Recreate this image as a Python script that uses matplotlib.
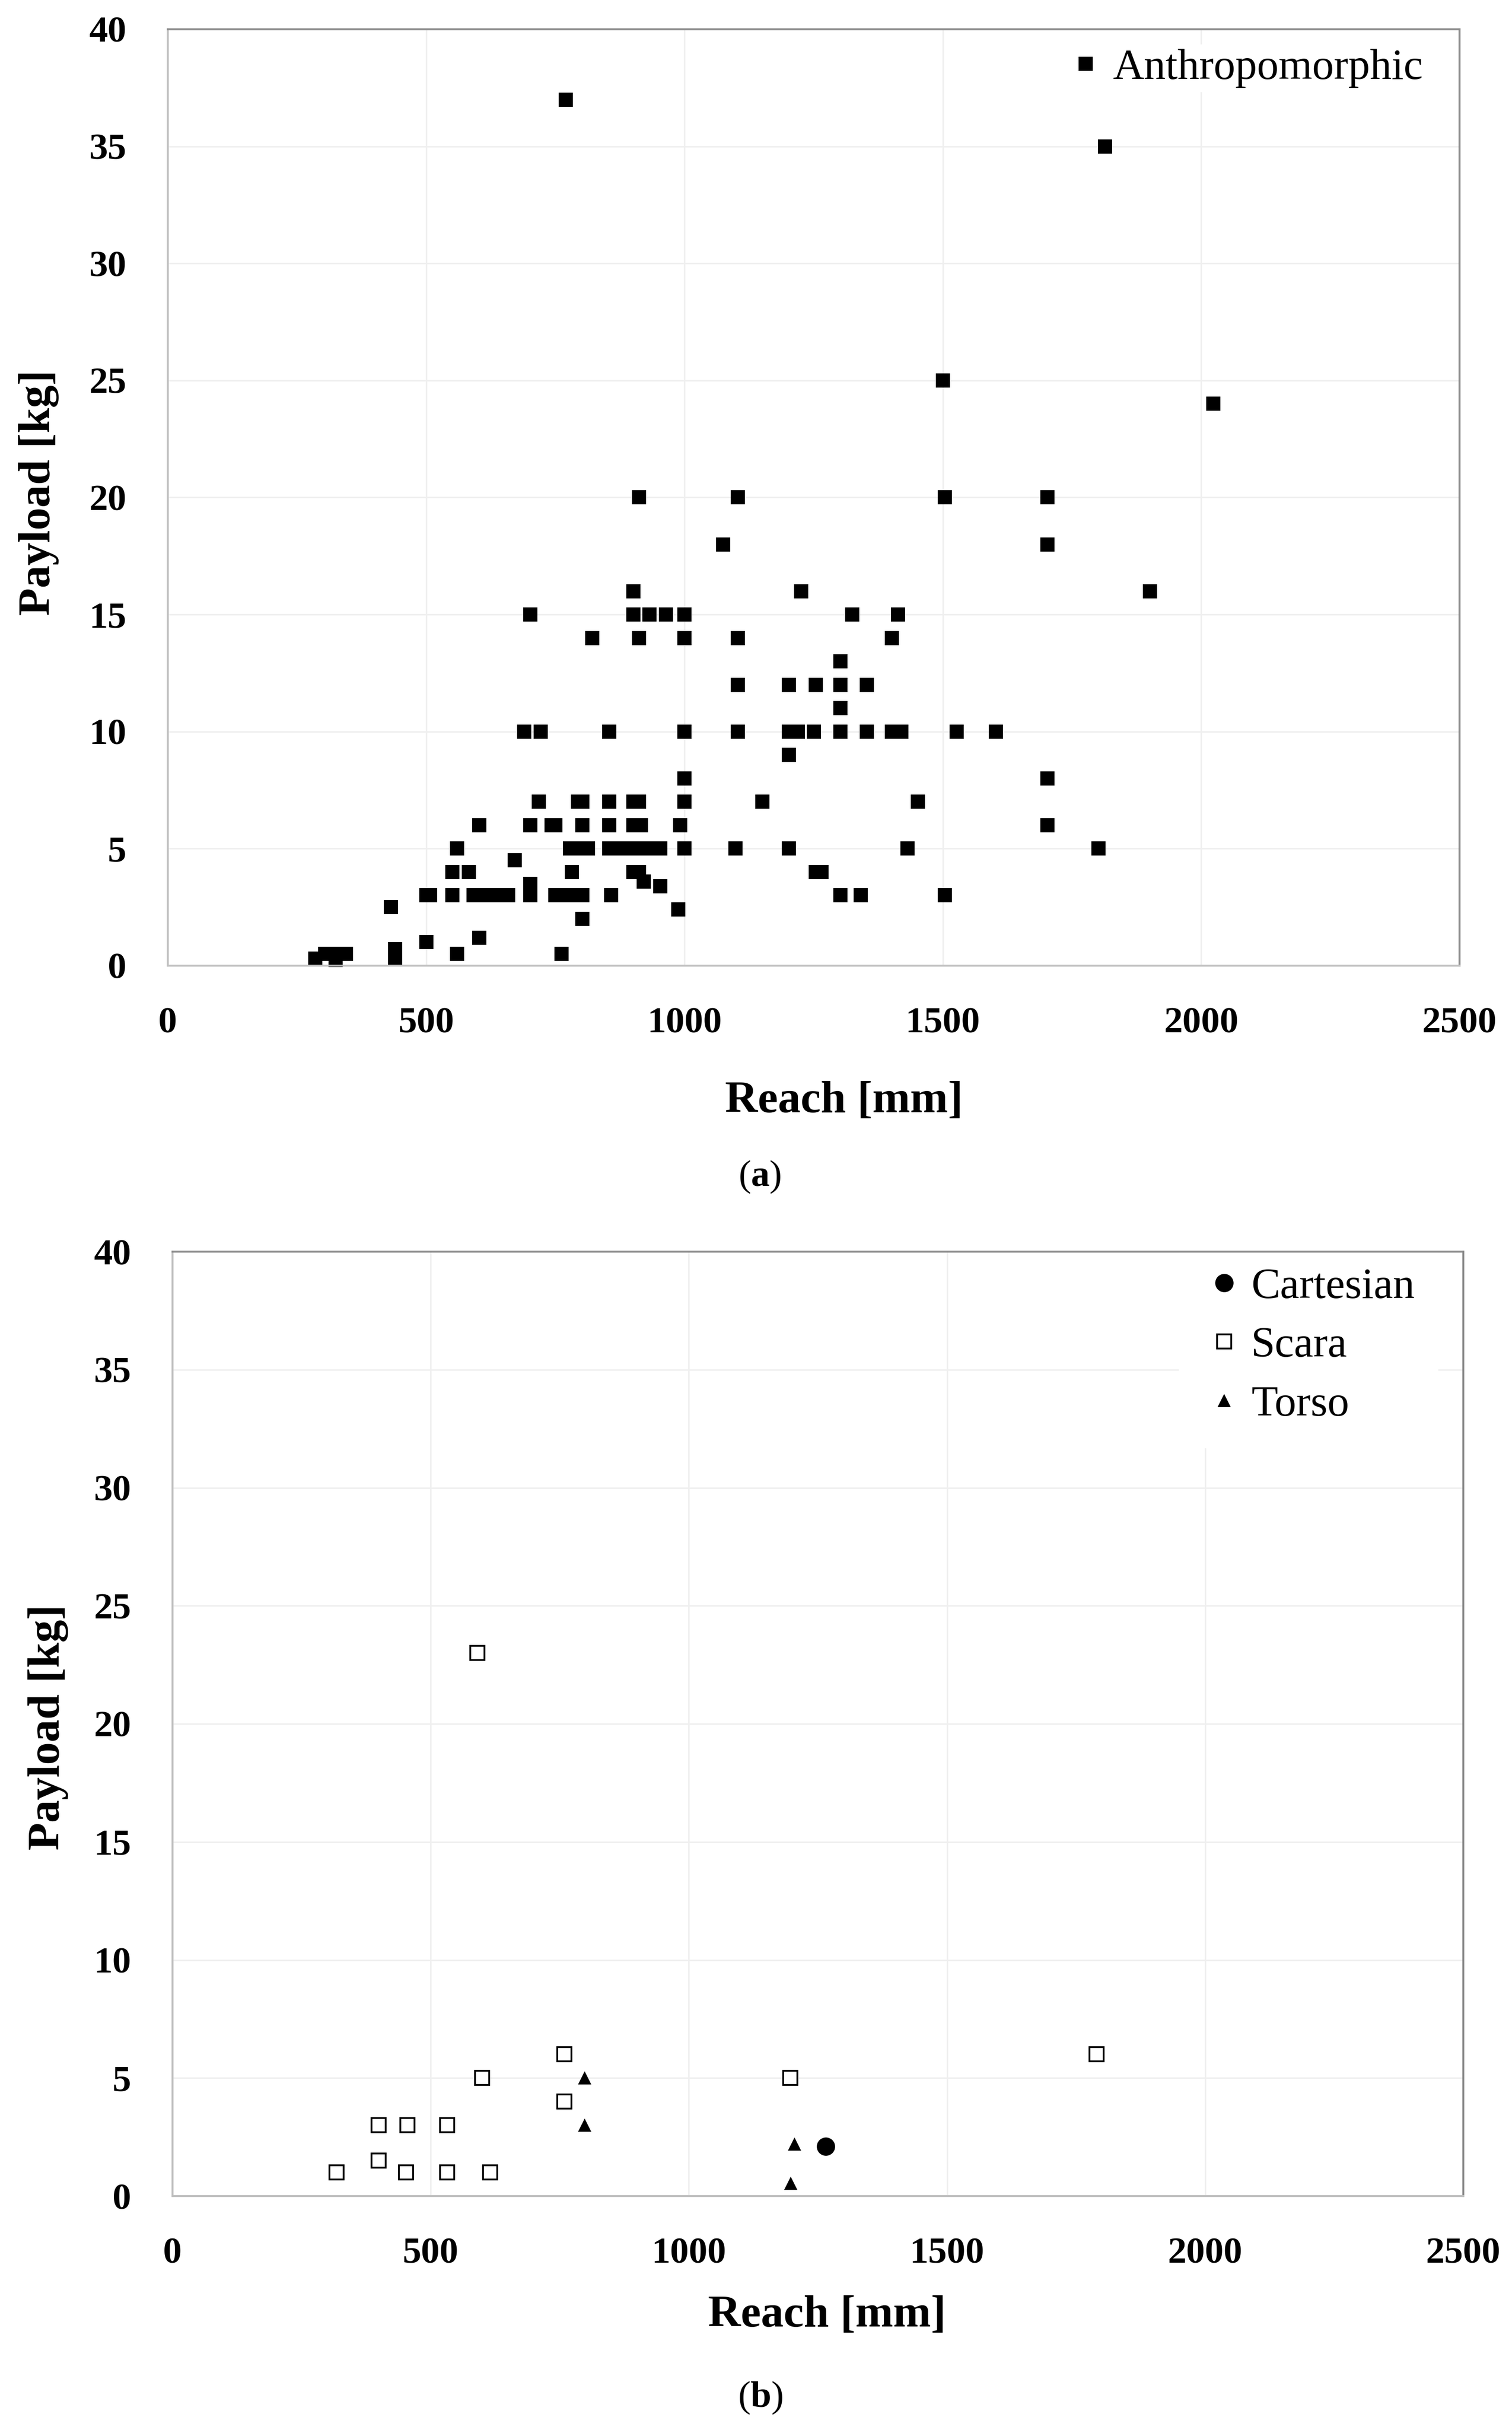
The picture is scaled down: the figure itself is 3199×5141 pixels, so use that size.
import matplotlib
matplotlib.use("Agg")
import matplotlib.pyplot as plt

plt.rcParams['font.family'] = ['Liberation Serif', 'DejaVu Serif']
plt.rcParams['mathtext.fontset'] = 'custom'
plt.rcParams['mathtext.rm'] = 'Liberation Serif'
plt.rcParams['mathtext.bf'] = 'Liberation Serif:bold'

# ---------------- data ----------------
anthro_reach = [285, 305, 320, 325, 345, 440, 440, 432, 500, 500, 508,
                551, 551, 583, 560, 560, 592, 608, 625, 642, 659, 603, 603,
                671, 702, 702, 702, 702, 690, 722, 718, 743, 750,
                750, 767, 785, 802, 762, 778, 796, 813, 782, 794, 802, 802,
                802, 821, 854, 854, 854, 858, 854, 880, 905, 930, 953,
                901, 912, 901, 901, 932, 964, 1000, 912, 912,
                901, 912, 901, 916, 921, 953, 988, 992,
                1000, 1000, 1000, 1000, 1000, 1075,
                1103, 1103, 1103, 1103, 1099, 1151,
                1202, 1202, 1219, 1202, 1202, 1226,
                1250, 1254, 1254, 1265,
                1302, 1302, 1302, 1302, 1302, 1325,
                1341, 1353, 1353, 1401, 1401, 1420, 1413,
                1432, 1452, 1500, 1504, 1504, 1527, 1603,
                1702, 1702, 1702, 1702, 1801, 1814, 1901, 2023, 770]
anthro_payload = [0.3, 0.5, 0.5, 0.25, 0.5, 0.7, 0.3, 2.5, 1, 3, 3,
                  3, 4, 4, 5, 0.5, 3, 3, 3, 3, 3, 6, 1.2,
                  4.5, 3, 3.5, 6, 15, 10, 10, 7, 6, 6,
                  3, 3, 3, 3, 0.5, 5, 5, 5, 4, 7, 7, 6,
                  2, 14, 10, 7, 6, 3, 5, 5, 5, 5, 5,
                  4, 4, 16, 15, 15, 15, 15, 20, 14,
                  7, 7, 6, 6, 3.6, 3.4, 2.4, 6,
                  14, 10, 8, 7, 5, 18,
                  20, 14, 12, 10, 5, 7,
                  12, 10, 10, 9, 5, 16,
                  10, 12, 4, 4,
                  13, 12, 11, 10, 3, 15,
                  3, 12, 10, 14, 10, 10, 15,
                  5, 7, 25, 20, 3, 10, 10,
                  20, 18, 8, 6, 5, 35, 16, 24, 37]

cart_reach = [1265]
cart_payload = [2.1]

scara_reach = [318, 399, 399, 455, 452, 532, 532, 600, 615, 590, 759, 759, 1196, 1790]
scara_payload = [1, 3, 1.5, 3, 1, 3, 1, 5, 1, 23, 6, 4, 5, 6]

torso_reach = [798, 798, 1205, 1197]
torso_payload = [5, 3, 2.2, 0.55]

x_ticks = [0, 500, 1000, 1500, 2000, 2500]
y_ticks = [0, 5, 10, 15, 20, 25, 30, 35, 40]

# ---------------- figure ----------------
W, H = 3199, 5141
DPI = 300
fig = plt.figure(figsize=(W / DPI, H / DPI), dpi=DPI)
fig.patch.set_facecolor('white')


def px_box(l, t, r, b):
    return [l / W, 1 - b / H, (r - l) / W, (b - t) / H]


def style_axes(ax):
    ax.set_xlim(0, 2500)
    ax.set_ylim(0, 40)
    ax.set_xticks(x_ticks)
    ax.set_yticks(y_ticks)
    ax.grid(True, color='#efefef', linewidth=0.75, zorder=0)
    ax.set_axisbelow(True)
    ax.tick_params(axis='both', length=0, labelsize=19, colors='black')
    ax.tick_params(axis='x', pad=21)
    ax.tick_params(axis='y', pad=21)
    for lab in ax.get_xticklabels() + ax.get_yticklabels():
        lab.set_fontweight('bold')
    ax.spines['top'].set_color('#8a8a8a')
    ax.spines['right'].set_color('#8a8a8a')
    ax.spines['left'].set_color('#c0c0c0')
    ax.spines['bottom'].set_color('#c0c0c0')
    for s in ax.spines.values():
        s.set_linewidth(1.0)
        s.set_zorder(4)


# Panel (a)
ax1 = fig.add_axes(px_box(355, 62, 3088, 2043))
style_axes(ax1)
ax1.plot(anthro_reach, anthro_payload, ls='none', marker='s', ms=7.2,
         mfc='black', mec='black', mew=0, clip_on=False, zorder=3,
         label='Anthropomorphic')
leg1 = ax1.legend(loc='center left', bbox_to_anchor=(0.6905, 0.9583),
                  borderaxespad=0, borderpad=0.1, handlelength=1.0,
                  handletextpad=0.12, fontsize=22, frameon=True,
                  fancybox=False, numpoints=1)
leg1.get_frame().set_edgecolor('none')
leg1.get_frame().set_facecolor('white')
leg1.get_frame().set_alpha(1)
leg1.set_zorder(2)

# Panel (b)
ax2 = fig.add_axes(px_box(365, 2648, 3096, 4646))
style_axes(ax2)
ax2.plot(cart_reach, cart_payload, ls='none', marker='o', ms=9.3,
         mfc='black', mec='black', mew=0, clip_on=False, zorder=3,
         label='Cartesian')
ax2.plot(scara_reach, scara_payload, ls='none', marker='s', ms=7.2,
         mfc='white', mec='black', mew=0.9, clip_on=False, zorder=3,
         label='Scara')
ax2.plot(torso_reach, torso_payload, ls='none', marker='^', ms=6.5,
         mfc='black', mec='black', mew=0, clip_on=False, zorder=3,
         label='Torso')
leg2 = ax2.legend(loc='center left', bbox_to_anchor=(0.7795, 0.900),
                  borderaxespad=0, borderpad=0.55, handlelength=1.0,
                  handletextpad=0.12, labelspacing=0.45, fontsize=22,
                  frameon=True, fancybox=False, numpoints=1)
leg2.get_frame().set_edgecolor('none')
leg2.get_frame().set_facecolor('white')
leg2.get_frame().set_alpha(1)
leg2.set_zorder(2)

# Axis labels and captions
fig.text(82 / W, 1 - 1042 / H, 'Payload [kg]', rotation=90, ha='center',
         va='center', fontsize=23, fontweight='bold')
fig.text(1786 / W, 1 - 2330 / H, 'Reach [mm]', ha='center', va='center',
         fontsize=23, fontweight='bold')
fig.text(1607 / W, 1 - 2490 / H, r'($\mathbf{a}$)', ha='center', va='center',
         fontsize=19)

fig.text(102 / W, 1 - 3654 / H, 'Payload [kg]', rotation=90, ha='center',
         va='center', fontsize=23, fontweight='bold')
fig.text(1750 / W, 1 - 4899 / H, 'Reach [mm]', ha='center', va='center',
         fontsize=23, fontweight='bold')
fig.text(1609 / W, 1 - 5073 / H, r'($\mathbf{b}$)', ha='center', va='center',
         fontsize=19)

fig.savefig('out.png', dpi=DPI, facecolor='white')
